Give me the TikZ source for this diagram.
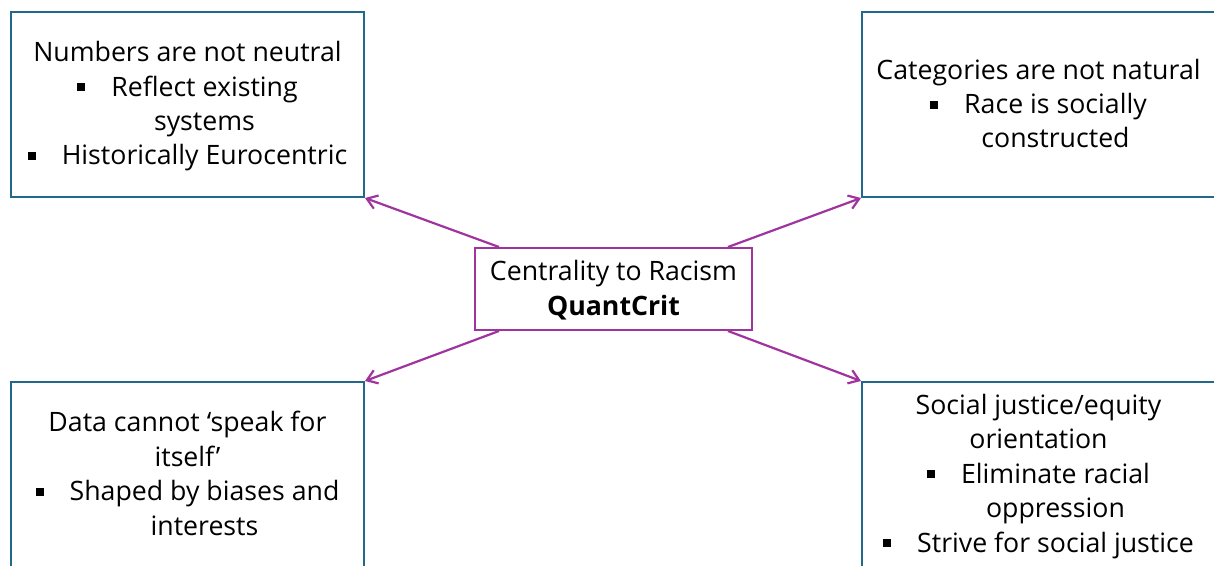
\documentclass[tikz,border=0pt]{standalone}
\usepackage{fontspec}
\setmainfont{Open Sans}
\usetikzlibrary{arrows.meta}
\definecolor{boxblue}{RGB}{34,104,138}
\definecolor{arrpurple}{RGB}{160,52,158}
\newcommand\topst{\rule{0pt}{24pt}}
\newcommand\botst{\rule[-6pt]{0pt}{6pt}}
\newcommand\bul{\raisebox{5pt}{\rule{8pt}{8pt}}\hspace{26pt}}
\newcommand\cont{\hspace*{34pt}}
\tikzset{
  box/.style={draw=boxblue, line width=2pt, minimum width=353pt, minimum height=185pt,
    inner sep=0pt, align=center, font=\fontsize{26.7}{34.4}\selectfont},
  hub/.style={draw=arrpurple, line width=2pt, minimum width=277pt, minimum height=82pt,
    inner sep=0pt, align=center, font=\fontsize{26.7}{34.4}\selectfont},
  arr/.style={draw=arrpurple, line width=2.2pt, -{Straight Barb[length=10pt,width=14pt]}}
}
\begin{document}
\begin{tikzpicture}[x=1pt,y=-1pt]
\useasboundingbox (0,0) rectangle (1214,565);
\clip (0,0) rectangle (1214,565);
\node[box] (tl) at (187.5,104.5) {\topst Numbers are not neutral\\ \bul Reflect existing\\ \cont systems\\ \bul Historically Eurocentric\botst};
\node[box] (tr) at (1038.5,104.5) {\topst Categories are not natural\\ \bul Race is socially\\ \cont constructed\botst};
\node[box] (bl) at (187.5,474.5) {\topst Data cannot ‘speak for\\ itself’\\ \bul Shaped by biases and\\ \cont interests\botst};
\node[box] (br) at (1038.5,474.5) {\topst Social justice/equity\\ orientation\\ \bul Eliminate racial\\ \cont oppression\\ \bul Strive for social justice\botst};
\node[hub] (c) at (613.5,289) {\topst Centrality to Racism\\ \textbf{QuantCrit}\botst};
\draw[arr] ([xshift=25pt]c.north west) -- (tl.south east);
\draw[arr] ([xshift=-25pt]c.north east) -- (tr.south west);
\draw[arr] ([xshift=25pt]c.south west) -- (bl.north east);
\draw[arr] ([xshift=-25pt]c.south east) -- (br.north west);
\end{tikzpicture}
\end{document}
